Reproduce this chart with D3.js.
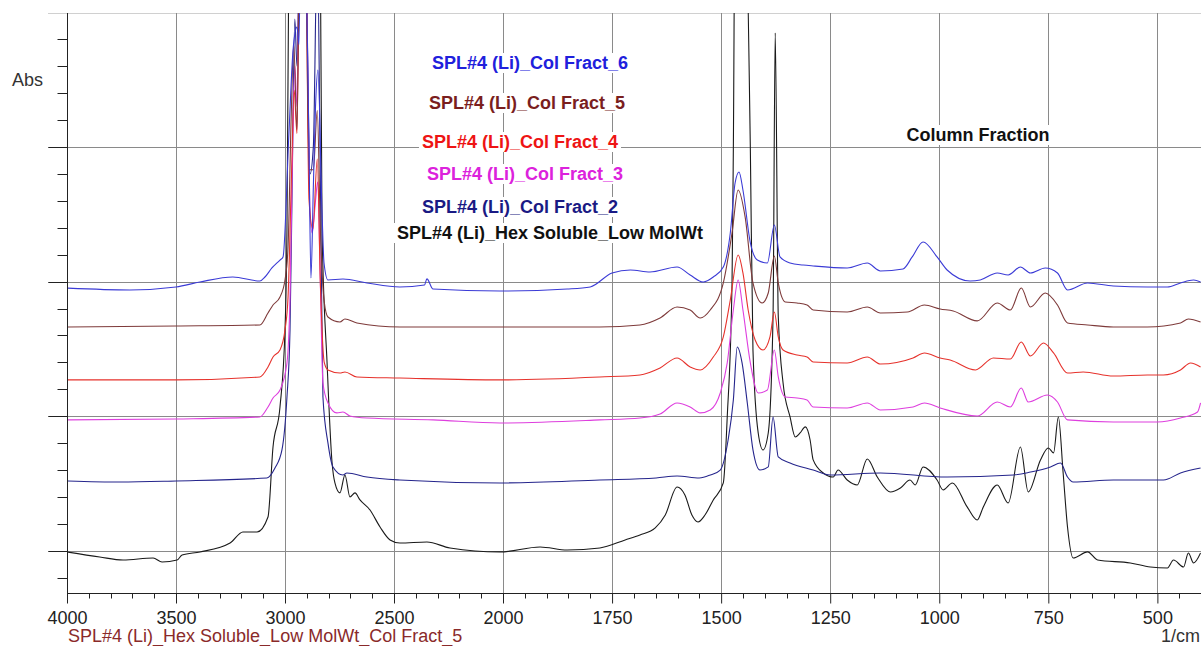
<!DOCTYPE html>
<html>
<head>
<meta charset="utf-8">
<script src="https://cdn.jsdelivr.net/npm/d3@7"></script>
<style>
body { margin: 0; background: #fff; }
svg { display: block; font-family: 'Liberation Sans', Arial, sans-serif; }
.tick-label { font-size: 18px; fill: #222; }
.series-label { font-size: 18px; font-weight: bold; }
</style>
</head>
<body>
<svg width="1201" height="646"></svg>
<script>
// wavenumber (1/cm), absorbance (offset, arbitrary units)
const hexSoluble = [
  [4000,-0.07],[3850,-0.45],[3743,-0.67],[3605,-0.52],[3564,-0.82],[3495,-0.67],[3472,-0.30],[3390,-0.07],
  [3252,0.59],[3193,1.41],[3128,1.41],[3078,2.52],[3055,7.72],[3023,10.69],[3000,16.41],[2991,23.83],
  [2982,45],[2960,65],[2920,70],[2870,70],[2840,50],[2830,23.83],[2807,13.96],[2784,6.53],[2771,5.05],
  [2748,4.31],[2725,5.64],[2702,4.01],[2679,4.31],[2656,3.79],[2610,3.04],[2564,1.78],[2518,0.82],
  [2473,0.59],[2349,0.67],[2243,0.22],[2014,-0.07],[1915,0.30],[1853,0.07],[1778,0.22],[1720,0.82],
  [1686,1.19],[1651,1.71],[1628,2.67],[1601,4.75],[1583,4.16],[1567,2.67],[1553,2.15],[1537,2.67],
  [1518,3.79],[1495,5.05],[1486,9.95],[1475,19.9],[1472,29.8],[1466,60],[1455,60],[1433,29.8],
  [1427,14.9],[1415,8.76],[1404,7.50],[1392,8.76],[1381,17.4],[1376,38.46],[1369,17.4],[1358,12.47],
  [1342,9.95],[1330,8.46],[1319,8.76],[1307,9.21],[1296,8.24],[1289,6.76],[1266,5.79],[1243,5.49],
  [1232,6.01],[1211,5.27],[1188,4.90],[1165,6.83],[1142,5.49],[1112,4.38],[1089,4.68],[1067,5.27],
  [1055,4.90],[1037,6.24],[1005,5.27],[991,4.53],[970,5.05],[936,3.27],[913,2.30],[899,3.27],
  [867,4.90],[842,3.56],[814,7.72],[796,4.38],[768,6.76],[750,7.65],[738,7.28],[727,9.95],[716,5.79],
  [706,1.78],[693,-0.52],[660,-0.07],[637,-0.67],[562,-0.89],[516,-1.19],[477,-1.26],[463,-0.67],
  [440,-1.19],[429,-0.15],[417,-0.89],[401,-0.15]
];

const colFract2 = [
  [4000,5.20],[3757,5.12],[3500,5.20],[3083,5.42],[3046,6.16],[3014,7.50],[2991,11.43],[2977,16.41],
  [2968,26.06],[2955,39.5],[2945,36],[2930,50],[2905,45],[2885,28],[2870,30],[2852,45],[2838,28],
  [2826,11.43],[2803,8.02],[2780,6.24],[2734,5.64],[2716,5.79],[2624,5.49],[2473,5.27],[2014,5.05],
  [1778,5.27],[1649,5.42],[1601,5.57],[1550,5.42],[1525,5.64],[1502,6.01],[1484,8.24],[1472,11.21],
  [1463,15.14],[1452,13.96],[1440,10.99],[1427,7.50],[1411,6.01],[1392,6.24],[1381,9.95],[1369,6.98],
  [1342,6.53],[1289,6.01],[1250,5.64],[1135,5.79],[982,5.49],[830,5.64],[791,5.86],[745,6.24],
  [722,6.53],[706,5.49],[693,5.12],[601,5.27],[486,5.27],[447,5.79],[401,6.16]
];

const colFract3 = [
  [4000,9.73],[3500,9.80],[3115,9.95],[3078,10.69],[3055,11.36],[3023,11.95],[2991,13.96],[2977,18.86],
  [2965,30],[2955,36],[2945,33],[2930,50],[2905,45],[2885,25],[2875,23.6],[2860,26],[2850,27.4],
  [2838,20],[2826,12.47],[2803,10.99],[2762,10.25],[2734,10.32],[2702,10.02],[2624,9.87],[2321,9.73],
  [2014,9.50],[1778,9.73],[1686,9.87],[1640,10.17],[1601,10.99],[1571,10.69],[1548,10.25],[1525,10.47],
  [1502,11.73],[1486,13.96],[1472,17.89],[1461,20.12],[1450,17.89],[1433,13.96],[1415,11.73],
  [1394,11.95],[1378,14.92],[1369,12.92],[1353,11.43],[1326,11.36],[1303,11.21],[1289,10.69],
  [1211,10.62],[1165,10.99],[1135,10.47],[1060,10.69],[1034,10.99],[998,10.62],[913,10.02],
  [867,11.06],[837,10.69],[812,12.10],[796,11.06],[752,11.58],[729,11.06],[706,9.73],[601,9.58],
  [500,9.58],[447,9.87],[408,10.32],[401,10.99]
];

const colFract4 = [
  [4000,12.70],[3500,12.70],[3115,12.92],[3078,13.66],[3055,14.40],[3023,14.92],[3000,16.41],[2986,18.86],
  [2970,28],[2958,34.2],[2945,31],[2930,50],[2905,45],[2890,26.1],[2872,23.9],[2852,29.1],[2838,20],
  [2820,14],[2803,13.44],[2748,13.21],[2725,13.29],[2670,12.92],[2473,12.84],[2014,12.70],[1778,12.92],
  [1686,13.07],[1640,13.59],[1601,14.33],[1571,13.66],[1548,13.44],[1518,14.40],[1495,15.89],
  [1479,18.63],[1461,21.97],[1450,20.64],[1438,17.89],[1422,15.66],[1404,14.92],[1388,15.89],
  [1378,17.74],[1369,15.89],[1358,14.92],[1326,14.55],[1303,14.40],[1289,14.03],[1211,13.96],
  [1165,14.40],[1135,13.88],[1060,14.33],[1034,14.70],[998,14.33],[975,14.18],[917,13.44],[876,14.33],
  [837,14.25],[812,15.52],[791,14.48],[761,15.44],[738,14.70],[706,13.21],[670,13.29],[601,12.99],
  [523,13.07],[486,13.07],[447,13.44],[424,13.96],[401,13.66]
];

const colFract5 = [
  [4000,16.63],[3500,16.70],[3115,16.78],[3078,17.67],[3055,18.26],[3023,18.86],[3000,20.12],[2986,22.57],
  [2972,32],[2960,37.6],[2945,31.3],[2930,50],[2905,45],[2890,28.3],[2870,28.3],[2852,32.7],[2838,24],
  [2820,18.5],[2803,17.37],[2748,17.00],[2725,17.22],[2670,16.93],[2473,16.63],[2014,16.63],[1778,16.63],
  [1686,16.78],[1640,17.30],[1601,18.11],[1571,17.89],[1548,17.30],[1525,17.89],[1495,19.90],
  [1475,23.61],[1461,26.80],[1445,24.80],[1427,19.90],[1406,18.41],[1392,19.15],[1378,21.90],
  [1369,19.90],[1353,18.49],[1326,18.41],[1303,18.26],[1289,17.89],[1211,17.74],[1165,18.11],
  [1135,17.67],[1073,17.74],[1034,18.26],[998,17.97],[968,17.82],[913,17.08],[867,18.41],[837,17.89],
  [812,19.52],[791,18.11],[757,19.15],[729,18.26],[706,16.93],[660,16.78],[601,16.63],[523,16.63],
  [447,16.93],[429,17.22],[401,17.00]
];

const colFract6 = [
  [4000,19.52],[3711,19.38],[3500,19.60],[3390,19.97],[3239,20.34],[3115,20.04],[3092,20.34],[3060,21.01],
  [3023,21.60],[3009,21.83],[2982,31.0],[2963,37.2],[2945,38.9],[2936,37.6],[2925,50],[2905,45],
  [2890,30],[2881,20.27],[2870,27],[2860,33],[2849,35.7],[2830,25.1],[2821,21.38],[2803,20.12],
  [2734,20.19],[2624,19.90],[2473,19.60],[2360,19.75],[2349,20.2],[2321,19.45],[2014,19.30],
  [1853,19.45],[1800,19.60],[1750,20.64],[1708,20.86],[1663,20.71],[1601,21.08],[1571,20.49],
  [1541,19.97],[1518,20.34],[1495,21.08],[1479,23.61],[1468,27.32],[1459,28.14],[1450,26.80],
  [1433,22.87],[1417,21.60],[1394,21.38],[1378,24.20],[1365,21.83],[1342,21.38],[1312,21.23],
  [1289,21.16],[1211,21.01],[1165,21.38],[1135,20.79],[1083,20.94],[1062,21.83],[1037,22.94],
  [1005,21.83],[982,20.86],[929,20.04],[906,20.12],[867,20.64],[842,20.49],[814,21.08],[791,20.64],
  [757,21.01],[729,20.64],[706,19.38],[660,19.90],[601,19.67],[523,19.60],[477,19.60],[447,19.90],
  [417,20.12],[401,19.97]
];

const seriesNames = [
  'SPL#4 (Li)_Col Fract_6',
  'SPL#4 (Li)_Col Fract_5',
  'SPL#4 (Li)_Col Fract_4',
  'SPL#4 (Li)_Col Fract_3',
  'SPL#4 (Li)_Col Fract_2',
  'SPL#4 (Li)_Hex Soluble_Low MolWt'
];
const seriesData = [colFract6, colFract5, colFract4, colFract3, colFract2, hexSoluble];

const xTickValues = [4000, 3500, 3000, 2500, 2000, 1750, 1500, 1250, 1000, 750, 500];
const yMajorValues = [0, 10, 20, 30];

const title = 'Column Fraction';
const xAxisLabel = '1/cm';
const yAxisLabel = 'Abs';
const fileLabel = 'SPL#4 (Li)_Hex Soluble_Low MolWt_Col Fract_5';

// styling / layout
const lineColors = ['#3b3bd6', '#7e3a3a', '#e6322c', '#de3fde', '#25258c', '#1a1a1a'];
const textColors = ['#2020dc', '#7a1e1e', '#ee1414', '#dc22dc', '#1a1a84', '#111111'];
const labelCenters = [[530, 63], [527, 103], [520, 142], [525, 174], [520, 207], [550, 233]];

const svg = d3.select('svg');
const width = +svg.attr('width');
const height = +svg.attr('height');
const margin = {top: 13, right: 0, bottom: 53, left: 67};
const innerBottom = height - margin.bottom;

const xScale = d3.scaleLinear()
  .domain([4000, 2000, 400])
  .range([margin.left, 503, width - margin.right]);

const yScale = d3.scaleLinear()
  .domain([-3.12, 39.94])
  .range([innerBottom, margin.top]);

// minor ticks: every 100 above 2000, every 50 below
const xMinor = d3.range(3900, 2000, -100).concat(d3.range(1950, 400, -50))
  .filter(v => !xTickValues.includes(v));
const yMinor = d3.range(-2, 40, 2).filter(v => !yMajorValues.includes(v));

const grid = svg.append('g');

grid.append('line')
  .attr('x1', 48).attr('x2', width)
  .attr('y1', margin.top + 0.5).attr('y2', margin.top + 0.5)
  .attr('stroke', '#d0d0d0');

grid.selectAll('.vgrid').data(xTickValues.slice(1))
  .enter().append('line')
    .attr('x1', d => Math.round(xScale(d)) + 0.5)
    .attr('x2', d => Math.round(xScale(d)) + 0.5)
    .attr('y1', margin.top)
    .attr('y2', innerBottom)
    .attr('stroke', '#8a8a8a');

grid.selectAll('.hgrid').data(yMajorValues)
  .enter().append('line')
    .attr('x1', 48)
    .attr('x2', width)
    .attr('y1', d => Math.round(yScale(d)) + 0.5)
    .attr('y2', d => Math.round(yScale(d)) + 0.5)
    .attr('stroke', '#8a8a8a');

// axes
const xAxisG = svg.append('g')
  .attr('transform', `translate(0, ${innerBottom + 0.5})`);

xAxisG.call(d3.axisBottom(xScale).tickValues(xTickValues).tickSize(10).tickPadding(8).tickFormat(d3.format('d')));
xAxisG.select('.domain').remove();
xAxisG.selectAll('text').attr('class', 'tick-label').attr('font-size', null).attr('font-family', null);
xAxisG.selectAll('line').attr('stroke', '#222');

xAxisG.selectAll('.minor').data(xMinor)
  .enter().append('line')
    .attr('x1', d => Math.round(xScale(d)) + 0.5)
    .attr('x2', d => Math.round(xScale(d)) + 0.5)
    .attr('y1', 0).attr('y2', 5)
    .attr('stroke', '#222');

svg.append('line')
  .attr('x1', margin.left).attr('x2', width)
  .attr('y1', innerBottom + 0.5).attr('y2', innerBottom + 0.5)
  .attr('stroke', '#222');

const yAxisG = svg.append('g')
  .attr('transform', `translate(${margin.left + 0.5}, 0)`);

yAxisG.selectAll('.major').data(yMajorValues)
  .enter().append('line')
    .attr('x1', -19).attr('x2', 0)
    .attr('y1', d => Math.round(yScale(d)) + 0.5)
    .attr('y2', d => Math.round(yScale(d)) + 0.5)
    .attr('stroke', '#222');

yAxisG.selectAll('.minor').data(yMinor)
  .enter().append('line')
    .attr('x1', -10).attr('x2', 0)
    .attr('y1', d => Math.round(yScale(d)) + 0.5)
    .attr('y2', d => Math.round(yScale(d)) + 0.5)
    .attr('stroke', '#222');

yAxisG.append('line')
  .attr('x1', 0).attr('x2', 0)
  .attr('y1', margin.top).attr('y2', innerBottom)
  .attr('stroke', '#222');

svg.append('text')
  .attr('x', 12)
  .attr('y', 86)
  .attr('font-size', 18)
  .attr('fill', '#333')
  .text(yAxisLabel);

svg.append('text')
  .attr('x', width - 1)
  .attr('y', 642)
  .attr('font-size', 18)
  .attr('fill', '#333')
  .attr('text-anchor', 'end')
  .text(xAxisLabel);

svg.append('text')
  .attr('x', 68)
  .attr('y', 642)
  .attr('font-size', 18)
  .attr('fill', '#8a2a2a')
  .text(fileLabel);

// spectra
svg.append('clipPath').attr('id', 'plot-clip')
  .append('rect')
    .attr('x', margin.left + 1)
    .attr('y', margin.top)
    .attr('width', width - margin.left - margin.right)
    .attr('height', innerBottom - margin.top);

const lineGenerator = d3.line()
  .x(d => xScale(d[0]))
  .y(d => yScale(d[1]))
  .curve(d3.curveMonotoneX);

const plotG = svg.append('g').attr('clip-path', 'url(#plot-clip)');

plotG.selectAll('path').data(seriesData.slice().reverse())
  .enter().append('path')
    .attr('d', d => lineGenerator(d))
    .attr('fill', 'none')
    .attr('stroke', (d, i) => lineColors[seriesData.length - 1 - i])
    .attr('stroke-width', 1.1)
    .attr('stroke-linejoin', 'round');

// labels with white backgrounds
const addLabel = (txt, cx, cy, color) => {
  const lg = svg.append('g');
  const t = lg.append('text')
    .attr('class', 'series-label')
    .attr('x', cx)
    .attr('y', cy + 6)
    .attr('text-anchor', 'middle')
    .attr('fill', color)
    .text(txt);
  const bb = t.node().getBBox();
  lg.insert('rect', 'text')
    .attr('x', bb.x - 3)
    .attr('y', bb.y)
    .attr('width', bb.width + 6)
    .attr('height', bb.height)
    .attr('fill', '#fff');
};

seriesNames.forEach((name, i) => {
  addLabel(name, labelCenters[i][0], labelCenters[i][1], textColors[i]);
});

addLabel(title, 978, 135, '#111');
</script>
</body>
</html>
